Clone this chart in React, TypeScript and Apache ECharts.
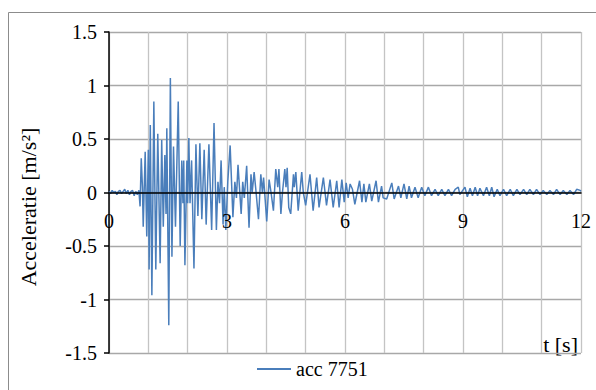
import React, { useEffect, useRef } from "react";
import * as echarts from "echarts";

const SERIES_NAME = "acc 7751";
const Y_TITLE = "Acceleratie [m/s²]";
const X_TITLE = "t [s]";
const X_LABEL_STEP = 3;

const times: number[] = [
  0, 0.04, 0.08, 0.12, 0.16, 0.2, 0.24, 0.28, 0.32, 0.36, 0.4, 0.44, 0.48, 0.52, 0.56, 0.6, 0.64, 0.68, 0.72, 0.76,
  0.79, 0.82, 0.85, 0.87, 0.92, 0.96, 1.0, 1.02, 1.05, 1.09, 1.14, 1.19, 1.24, 1.3, 1.34, 1.38, 1.42, 1.45, 1.47, 1.52, 1.56,
  1.6, 1.64, 1.69, 1.76, 1.81, 1.85, 1.88, 1.9, 1.93, 1.98, 2.0, 2.03, 2.06, 2.1, 2.16, 2.21, 2.26, 2.31, 2.36, 2.42, 2.47,
  2.54, 2.61, 2.67, 2.73, 2.77, 2.81, 2.85, 2.9, 2.93, 2.97, 3.02, 3.08, 3.15, 3.2, 3.24, 3.28, 3.36, 3.4, 3.44, 3.5, 3.56,
  3.61, 3.64, 3.69, 3.74, 3.8, 3.86, 3.9, 3.93, 4.01, 4.07, 4.12, 4.18, 4.24, 4.29, 4.32, 4.37, 4.41, 4.47, 4.5, 4.53, 4.57,
  4.62, 4.69, 4.71, 4.75, 4.81, 4.9, 4.94, 5.0, 5.11, 5.19, 5.28, 5.34, 5.45, 5.53, 5.62, 5.7, 5.79, 5.85,
  5.92, 5.98, 6.03, 6.08, 6.13, 6.19, 6.25, 6.37, 6.43, 6.48, 6.53, 6.62, 6.68, 6.79, 6.85, 6.93, 6.97, 7.06, 7.19, 7.25,
  7.36, 7.42, 7.5, 7.57, 7.63, 7.69, 7.78, 7.86, 7.95, 8.03, 8.12, 8.2, 8.29, 8.37, 8.46, 8.54, 8.63, 8.71, 8.8, 8.88,
  8.92, 9.05, 9.11, 9.18, 9.24, 9.31, 9.37, 9.43, 9.52, 9.6, 9.67, 9.73, 9.79, 9.87, 9.94, 10.03, 10.11, 10.2, 10.28, 10.37,
  10.45, 10.54, 10.62, 10.7, 10.79, 10.87, 10.96, 11.04, 11.13, 11.21, 11.3, 11.38, 11.47, 11.55, 11.64, 11.72, 11.81, 11.89, 11.98, 12,
];

const accel: number[] = [
  0.01, -0.01, 0.02, 0.0, 0.01, -0.02, 0.01, 0.02, -0.01, 0.01, 0.03, -0.01, 0.02, -0.02, 0.01, 0.02, -0.03, 0.01, -0.02, 0.02,
  -0.13, 0.32, 0.05, -0.32, 0.38, -0.41, 0.4, -0.72, 0.63, -0.96, 0.85, -0.72, 0.55, -0.66, 0.49, -0.32, 0.35, -0.2, 0.6, -1.24, 1.07,
  -0.6, 0.43, -0.32, 0.85, -0.5, 0.3, -0.1, 0.3, -0.68, 0.3, -0.1, 0.51, -0.1, 0.3, -0.71, 0.45, -0.22, 0.46, -0.25, 0.4, -0.3,
  0.45, -0.35, 0.65, -0.35, 0.1, -0.1, 0.3, -0.3, 0.05, -0.35, 0.1, 0.44, -0.23, 0.1, -0.05, 0.26, -0.2, 0.1, -0.05, 0.25, -0.33,
  0.17, 0.0, 0.19, 0.0, -0.25, 0.17, 0.0, 0.14, -0.27, 0.12, 0.0, -0.17, 0.22, 0.05, 0.22, -0.2, 0.0, 0.22, 0.05, 0.23, -0.14,
  -0.2, 0.17, 0.05, 0.19, -0.17, 0.19, 0.0, -0.12, 0.17, -0.17, 0.14, -0.14, 0.14, -0.12, 0.12, -0.14, 0.11, -0.14,
  0.12, -0.09, 0.09, -0.05, 0.08, 0.03, -0.11, 0.11, -0.09, 0.08, -0.09, 0.08, -0.08, 0.11, -0.09, 0.06, -0.05, -0.06, 0.09, -0.06,
  0.06, -0.05, 0.08, -0.06, 0.06, -0.05, 0.05, -0.05, 0.05, -0.03, 0.05, -0.03, 0.03, -0.03, 0.03, -0.03, 0.03, -0.03, 0.03, 0.05,
  -0.02, 0.05, -0.04, 0.04, -0.03, 0.05, -0.03, 0.04, -0.03, 0.05, -0.03, 0.05, -0.04, 0.03, -0.03, 0.03, -0.03, 0.03, -0.03, 0.03,
  -0.02, 0.03, -0.02, 0.03, -0.02, 0.03, -0.02, 0.02, -0.02, 0.02, -0.02, 0.03, -0.02, 0.02, -0.02, 0.02, -0.02, 0.03, 0.02, 0.01,
];

const FONT = "'Liberation Serif', 'Times New Roman', serif";

export default function App() {
  const ref = useRef<HTMLDivElement>(null);
  useEffect(() => {
    if (!ref.current) return;
    const chart = echarts.init(ref.current, null, { renderer: "svg" });
    const n = Math.min(times.length, accel.length);
    const data: number[][] = [];
    for (let i = 0; i < n; i++) data.push([times[i], accel[i]]);
    const plotTop = 32;
    const plotBottom = 37;
    const plotH = 390 - plotTop - plotBottom;
    const yMin = -1.5;
    const yMax = 1.5;
    const zeroOffset = (plotH * (0 - yMin)) / (yMax - yMin);
    chart.setOption({
      animation: false,
      backgroundColor: "#ffffff",
      grid: { left: 109, right: 15, top: plotTop, bottom: plotBottom },
      legend: {
        data: [SERIES_NAME],
        left: 252,
        top: 354,
        icon: "rect",
        itemWidth: 34,
        itemHeight: 2,
        itemGap: 6,
        textStyle: { fontFamily: FONT, fontSize: 20, color: "#000" },
      },
      xAxis: [
        {
          type: "value",
          min: 0,
          max: 12,
          interval: 1,
          axisLine: { show: false },
          axisTick: { show: false },
          axisLabel: { show: false },
          splitLine: { show: true, lineStyle: { color: "#c4c4c4", width: 1.3 } },
        },
        {
          type: "value",
          position: "bottom",
          offset: -zeroOffset,
          min: 0,
          max: 12,
          interval: 1,
          z: 3,
          axisLine: { show: true, onZero: false, lineStyle: { color: "#000", width: 1.5 } },
          axisTick: { show: false },
          axisLabel: {
            margin: 18,
            fontFamily: FONT,
            fontSize: 20,
            color: "#000",
            formatter: (v: number) => (v % X_LABEL_STEP === 0 ? String(v) : ""),
          },
          splitLine: { show: false },
        },
      ],
      yAxis: {
        type: "value",
        min: yMin,
        max: yMax,
        interval: 0.5,
        axisLine: { show: true, onZero: false, lineStyle: { color: "#000", width: 1.5 } },
        axisTick: { show: true, length: 5, lineStyle: { color: "#000", width: 1.5 } },
        axisLabel: {
          margin: 12,
          fontFamily: FONT,
          fontSize: 20,
          color: "#000",
          formatter: (v: number) => String(v),
        },
        splitLine: { show: true, lineStyle: { color: "#a8a8a8", width: 1.3 } },
      },
      graphic: [
        {
          type: "rect",
          silent: true,
          shape: { x: 8.5, y: 12.5, width: 620, height: 420 },
          style: { fill: "none", stroke: "#8c8c8c", lineWidth: 1 },
        },
        {
          type: "text",
          x: 28,
          y: 207,
          rotation: Math.PI / 2,
          style: {
            text: Y_TITLE,
            font: "22px " + FONT,
            fill: "#000",
            align: "center",
            verticalAlign: "middle",
          },
        },
        {
          type: "text",
          x: 578,
          y: 344,
          style: {
            text: X_TITLE,
            font: "22px " + FONT,
            fill: "#000",
            align: "right",
            verticalAlign: "middle",
          },
        },
      ],
      series: [
        {
          name: SERIES_NAME,
          type: "line",
          xAxisIndex: 0,
          data,
          showSymbol: false,
          symbol: "none",
          lineStyle: { color: "#4a7ebb", width: 1.5 },
          itemStyle: { color: "#4a7ebb" },
          z: 2,
        },
      ],
    });
    return () => chart.dispose();
  }, []);
  return (
    <div
      ref={ref}
      style={{ position: "fixed", left: 0, top: 0, width: 596, height: 390 }}
    />
  );
}
